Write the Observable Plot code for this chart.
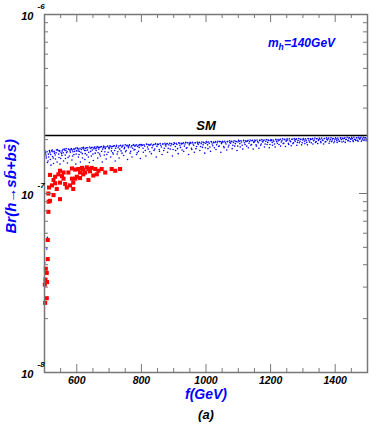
<!DOCTYPE html>
<html><head><meta charset="utf-8">
<script src="https://cdn.jsdelivr.net/npm/d3@7"></script>
<script src="https://cdn.jsdelivr.net/npm/@observablehq/plot@0.6"></script>
<style>body{margin:0;background:#fff}</style>
</head><body><div id="chart"></div>
<script>
// Branching ratio Br(h -> s bbar + b sbar) vs f (GeV), m_h = 140 GeV
const smValue = 2.11e-7;
// red scan points: [f (GeV), Br in units of 1e-7]
const redScan = [
 [517,1.27],[528,1.19],[533,1.24],[543,1.28],[554,1.25],[548,1.34],[559,1.31],[559,1.21],
 [548,1.15],[533,1.14],[523,1.11],[538,1.06],[564,1.13],[569,1.08],[579,1.11],[589,1.15],
 [595,1.21],[600,1.24],[610,1.22],[585,1.38],[595,1.36],[605,1.37],[616,1.39],[620,1.36],
 [631,1.40],[636,1.37],[641,1.33],[646,1.39],[657,1.37],[667,1.34],[677,1.37],[688,1.31],
 [708,1.37],[719,1.34],[734,1.37],[620,1.28],[636,1.19],[651,1.26],[662,1.28],[512,1.00],
 [517,0.91],[528,0.98],[548,0.93],[589,1.06],[585,1.21],[574,1.31],[610,1.31],[626,1.31],
 [513,0.90],[512,0.79],[514,1.08],[510,0.55],[510,0.43],[504,0.38],[507,0.36],[503,0.33],
 [508,0.32],[501,0.31],[507,0.26],[502,0.245]
];
// blue scan points: [f (GeV), Br in units of 1e-7]
const blueScan = [
 [503,1.70],[506,1.58],[509,1.49],[512,1.66],[515,1.74],[518,1.55],[520,1.44],[505,1.62],[511,1.52],[517,1.69],
 [522,1.73],[525,1.61],[528,1.47],[531,1.68],[534,1.56],[537,1.75],[539,1.50],[526,1.71],[533,1.64],
 [542,1.74],[545,1.59],[548,1.46],[551,1.70],[554,1.63],[557,1.76],[559,1.52],[546,1.72],[553,1.67],
 [562,1.75],[565,1.57],[568,1.69],[571,1.48],[574,1.77],[577,1.62],[579,1.73],[566,1.74],
 [582,1.76],[585,1.54],[588,1.71],[591,1.65],[594,1.77],[597,1.46],[599,1.73],[586,1.75],
 [602,1.78],[605,1.60],[608,1.72],[611,1.50],[614,1.76],[617,1.67],[619,1.79],[606,1.77],
 [622,1.77],[625,1.55],[628,1.74],[631,1.64],[634,1.80],[637,1.70],[639,1.49],[627,1.79],
 [642,1.79],[645,1.62],[648,1.75],[651,1.53],[654,1.81],[657,1.68],[659,1.78],[646,1.80],
 [662,1.80],[665,1.58],[668,1.77],[671,1.66],[674,1.82],[677,1.72],[679,1.50],[667,1.81],
 [682,1.81],[685,1.64],[688,1.78],[691,1.56],[694,1.83],[697,1.70],[699,1.80],[686,1.82],
 [702,1.82],[705,1.60],[708,1.79],[711,1.69],[714,1.84],[717,1.74],[719,1.52],[706,1.83],
 [722,1.83],[725,1.66],[728,1.80],[731,1.58],[734,1.85],[737,1.73],[739,1.82],
 [742,1.84],[745,1.63],[748,1.81],[751,1.71],[754,1.85],[757,1.55],[759,1.83],
 [762,1.85],[765,1.68],[768,1.82],[771,1.60],[774,1.86],[777,1.75],[779,1.84],
 [782,1.85],[785,1.65],[788,1.83],[791,1.72],[794,1.87],[797,1.57],[799,1.85],
 [803,1.86],[806,1.70],[810,1.84],[814,1.62],[817,1.88],[821,1.77],[824,1.86],
 [828,1.87],[831,1.67],[835,1.85],[839,1.74],[842,1.88],[846,1.60],[849,1.87],
 [853,1.88],[856,1.72],[860,1.86],[864,1.65],[867,1.89],[871,1.79],[874,1.87],
 [878,1.89],[881,1.70],[885,1.87],[889,1.77],[892,1.90],[896,1.62],[899,1.88],
 [903,1.90],[906,1.74],[910,1.88],[914,1.67],[917,1.91],[921,1.81],[924,1.89],
 [928,1.90],[931,1.72],[935,1.89],[939,1.79],[942,1.92],[946,1.65],[949,1.90],
 [953,1.91],[956,1.76],[960,1.89],[964,1.70],[967,1.92],[971,1.83],[974,1.91],
 [978,1.92],[981,1.74],[985,1.90],[989,1.81],[992,1.93],[996,1.68],[999,1.91],
 [1003,1.93],[1006,1.78],[1010,1.91],[1014,1.72],[1017,1.94],[1021,1.85],[1024,1.92],
 [1028,1.93],[1031,1.76],[1035,1.92],[1039,1.83],[1042,1.95],[1046,1.70],[1049,1.93],
 [1053,1.94],[1056,1.80],[1060,1.92],[1064,1.75],[1067,1.95],[1071,1.86],[1074,1.93],
 [1078,1.95],[1081,1.78],[1085,1.93],[1089,1.84],[1092,1.96],[1096,1.74],[1099,1.94],
 [1103,1.96],[1106,1.82],[1110,1.94],[1114,1.77],[1117,1.97],[1121,1.88],[1124,1.95],
 [1128,1.96],[1131,1.80],[1135,1.95],[1139,1.86],[1142,1.97],[1146,1.77],[1149,1.95],
 [1153,1.97],[1156,1.84],[1160,1.95],[1164,1.79],[1167,1.98],[1171,1.89],[1174,1.96],
 [1178,1.97],[1181,1.82],[1185,1.96],[1189,1.88],[1192,1.99],[1196,1.80],[1199,1.97],
 [1203,1.98],[1206,1.86],[1210,1.96],[1214,1.82],[1217,1.99],[1221,1.91],[1224,1.97],
 [1228,1.99],[1231,1.84],[1235,1.97],[1239,1.90],[1242,2.00],[1246,1.83],[1249,1.98],
 [1253,1.99],[1256,1.88],[1260,1.97],[1264,1.85],[1267,2.01],[1271,1.92],[1274,1.99],
 [1278,2.00],[1281,1.86],[1285,1.98],[1289,1.92],[1292,2.01],[1296,1.87],[1299,1.99],
 [1303,2.00],[1306,1.90],[1310,1.98],[1314,1.87],[1317,2.02],[1321,1.94],[1324,2.00],
 [1328,2.01],[1331,1.89],[1335,1.99],[1339,1.93],[1342,2.02],[1346,1.90],[1349,2.00],
 [1353,2.01],[1356,1.92],[1360,1.99],[1364,1.89],[1367,2.03],[1371,1.95],[1374,2.01],
 [1378,2.02],[1381,1.91],[1385,2.00],[1389,1.95],[1392,2.03],[1396,1.92],[1399,2.01],
 [1403,2.02],[1406,1.93],[1410,2.00],[1414,1.96],[1417,2.04],[1421,1.94],[1424,2.02],
 [1428,2.03],[1431,1.93],[1435,2.01],[1439,1.97],[1442,2.04],[1446,1.95],[1449,2.02],
 [1453,2.03],[1456,1.95],[1460,2.01],[1464,1.98],[1467,2.05],[1471,1.96],[1474,2.03],
 [1478,2.04],[1481,1.96],[1485,2.02],[1489,1.98],[1492,2.05],[1496,1.97],[1499,2.03],
 [511,0.89],[509,0.57],[507,0.49],[501,0.41],[500,0.34]
];
// second pass of blue scan points, denser near the upper ridge
const blueScanRidge = [
 [501,1.73],[504,1.66],[508,1.71],[513,1.60],[516,1.72],[519,1.65],[524,1.75],[527,1.58],[530,1.72],[536,1.69],
 [540,1.76],[544,1.66],[547,1.74],[550,1.57],[555,1.73],[558,1.69],[561,1.77],[564,1.64],[567,1.78],[570,1.71],
 [573,1.59],[576,1.76],[580,1.70],[583,1.78],[587,1.62],[590,1.77],[593,1.72],[596,1.79],[598,1.66],
 [601,1.80],[604,1.73],[607,1.65],[610,1.79],[613,1.70],[616,1.80],[618,1.58],[621,1.81],[624,1.74],[626,1.67],
 [630,1.80],[633,1.75],[636,1.60],[640,1.82],[643,1.72],[647,1.81],[650,1.66],[653,1.78],[656,1.82],[660,1.74],
 [663,1.83],[666,1.69],[670,1.81],[673,1.62],[676,1.83],[680,1.77],[683,1.84],[687,1.71],[690,1.82],[693,1.65],
 [696,1.84],[700,1.78],
 [703,1.85],[707,1.73],[710,1.83],[713,1.66],[716,1.85],[720,1.79],[723,1.86],[727,1.71],[730,1.84],[733,1.77],
 [736,1.86],[740,1.68],[743,1.86],[747,1.78],[750,1.87],[753,1.74],[756,1.86],[760,1.80],[763,1.87],[767,1.72],
 [770,1.85],[773,1.79],[776,1.88],[780,1.76],[784,1.87],[787,1.69],[790,1.86],[793,1.81],[796,1.88],
 [801,1.88],[805,1.79],[808,1.87],[812,1.74],[816,1.89],[819,1.82],[823,1.88],[826,1.71],[830,1.89],[833,1.80],
 [837,1.88],[841,1.77],[844,1.90],[848,1.83],[851,1.89],[855,1.76],[858,1.90],[862,1.82],[866,1.89],[869,1.74],
 [873,1.91],[876,1.84],[880,1.90],[883,1.79],[887,1.91],[891,1.85],[894,1.89],[898,1.76],
 [901,1.92],[905,1.83],[908,1.91],[912,1.78],[916,1.92],[919,1.86],[923,1.91],[926,1.75],[930,1.92],[933,1.84],
 [937,1.93],[941,1.80],[944,1.92],[948,1.87],[951,1.93],[955,1.79],[958,1.93],[962,1.86],[966,1.92],[969,1.78],
 [973,1.94],[976,1.88],[980,1.93],[983,1.83],[987,1.94],[991,1.87],[994,1.92],[998,1.80],
 [1001,1.95],[1005,1.87],[1008,1.94],[1012,1.82],[1016,1.95],[1019,1.89],[1023,1.94],[1026,1.80],[1030,1.95],[1033,1.87],
 [1037,1.96],[1041,1.84],[1044,1.95],[1048,1.90],[1051,1.96],[1055,1.83],[1058,1.96],[1062,1.89],[1066,1.95],[1069,1.82],
 [1073,1.97],[1076,1.91],[1080,1.96],[1083,1.86],[1087,1.97],[1091,1.90],[1094,1.95],[1098,1.84],
 [1101,1.98],[1105,1.90],[1108,1.97],[1112,1.86],[1116,1.98],[1119,1.92],[1123,1.97],[1126,1.84],[1130,1.98],[1133,1.91],
 [1137,1.99],[1141,1.88],[1144,1.98],[1148,1.93],[1151,1.99],[1155,1.87],[1158,1.99],[1162,1.92],[1166,1.98],[1169,1.86],
 [1173,2.00],[1176,1.94],[1180,1.99],[1183,1.89],[1187,2.00],[1191,1.93],[1194,1.98],[1198,1.88],
 [1201,2.00],[1205,1.93],[1208,1.99],[1212,1.89],[1216,2.01],[1219,1.95],[1223,2.00],[1226,1.88],[1230,2.01],[1233,1.94],
 [1237,2.02],[1241,1.91],[1244,2.01],[1248,1.96],[1251,2.02],[1255,1.91],[1258,2.02],[1262,1.95],[1266,2.01],[1269,1.90],
 [1273,2.03],[1276,1.96],[1280,2.02],[1283,1.93],[1287,2.03],[1291,1.96],[1294,2.01],[1298,1.92],
 [1301,2.03],[1305,1.96],[1308,2.02],[1312,1.93],[1316,2.03],[1319,1.97],[1323,2.02],[1326,1.92],[1330,2.03],[1333,1.97],
 [1337,2.04],[1341,1.95],[1344,2.03],[1348,1.98],[1351,2.04],[1355,1.95],[1358,2.04],[1362,1.98],[1366,2.03],[1369,1.94],
 [1373,2.05],[1376,1.99],[1380,2.04],[1383,1.96],[1387,2.05],[1391,1.99],[1394,2.03],[1398,1.96],
 [1401,2.05],[1405,1.98],[1408,2.04],[1412,1.96],[1416,2.05],[1419,2.00],[1423,2.04],[1426,1.96],[1430,2.05],[1433,2.00],
 [1437,2.06],[1441,1.98],[1444,2.05],[1448,2.01],[1451,2.06],[1455,1.98],[1458,2.06],[1462,2.00],[1466,2.05],[1469,1.98],
 [1473,2.06],[1476,2.01],[1480,2.06],[1483,1.99],[1487,2.06],[1491,2.01],[1494,2.05],[1498,2.00]
];
const xTickLabels = [600, 800, 1000, 1200, 1400];
const xMinorTicks = [550,650,700,750,850,900,950,1050,1100,1150,1250,1300,1350,1450];
const yDecades = [1e-8, 1e-7, 1e-6];
const yDecadeExp = ["-8", "-7", "-6"];
const yMinorTicks = [2e-8,3e-8,4e-8,5e-8,6e-8,7e-8,8e-8,9e-8,2e-7,3e-7,4e-7,5e-7,6e-7,7e-7,8e-7,9e-7];

const W = 382, H = 432, ML = 44, MR = 15, MT = 14, MB = 60;
const PW = W - ML - MR, PH = H - MT - MB;
const axisGray = "#777";
const red = redScan.map(d => ({f: d[0], br: d[1] * 1e-7}));
const blue = blueScan.concat(blueScanRidge).map(d => ({f: d[0], br: d[1] * 1e-7}));
const decades = yDecades.map((v, i) => ({v, e: yDecadeExp[i]}));

const chart = Plot.plot({
  width: W, height: H,
  marginLeft: ML, marginRight: MR, marginTop: MT, marginBottom: MB,
  x: {domain: [500, 1500], axis: null},
  y: {type: "log", domain: [1e-8, 1e-6], axis: null},
  style: {fontFamily: "'Liberation Sans', Arial, sans-serif", fontWeight: "bold", fontStyle: "italic", background: "#fff"},
  marks: [
    Plot.dot(blue, {x: "f", y: "br", r: 0.8, fill: "#0000ff", stroke: null}),
    Plot.dot(red, {x: "f", y: "br", r: 2.3, symbol: "square", fill: "#ff0000", stroke: null}),
    Plot.ruleY([smValue], {stroke: "#000", strokeWidth: 1.5}),
    Plot.text(["SM"], {x: 1000, y: smValue, text: d => d, dy: -10, fontSize: 13, fill: "#000"}),
    Plot.text(["m"], {x: 1192, y: 6.9e-7, text: d => d, textAnchor: "start", fontSize: 12, fill: "#0000ff"}),
    Plot.text(["h"], {x: 1192, y: 6.9e-7, text: d => d, textAnchor: "start", dx: 10.5, dy: 4, fontSize: 8.5, fill: "#0000ff"}),
    Plot.text(["=140GeV"], {x: 1192, y: 6.9e-7, text: d => d, textAnchor: "start", dx: 16, fontSize: 12, fill: "#0000ff"}),
    // ticks (inward, mirrored on all four sides)
    Plot.tickY(yMinorTicks, {y: d => d, insetRight: PW - 4, stroke: axisGray}),
    Plot.tickY(yMinorTicks, {y: d => d, insetLeft: PW - 4, stroke: axisGray}),
    Plot.tickY(yDecades, {y: d => d, insetRight: PW - 8, stroke: axisGray}),
    Plot.tickY(yDecades, {y: d => d, insetLeft: PW - 8, stroke: axisGray}),
    Plot.tickX(xMinorTicks, {x: d => d, insetTop: PH - 4, stroke: axisGray}),
    Plot.tickX(xMinorTicks, {x: d => d, insetBottom: PH - 4, stroke: axisGray}),
    Plot.tickX(xTickLabels, {x: d => d, insetTop: PH - 8, stroke: axisGray}),
    Plot.tickX(xTickLabels, {x: d => d, insetBottom: PH - 8, stroke: axisGray}),
    Plot.frame({stroke: axisGray, strokeWidth: 1.5}),
    Plot.axisX(xTickLabels, {tickSize: 0, tickPadding: 4, fontSize: 10.5, label: null, fill: "#000", tickFormat: d => String(d)}),
    Plot.text(decades, {y: "v", text: () => "10", frameAnchor: "left", textAnchor: "end", dx: -11, dy: 2, fontSize: 11, fill: "#000"}),
    Plot.text(decades, {y: "v", text: "e", frameAnchor: "left", textAnchor: "start", dx: -7, dy: -8, fontSize: 8, fill: "#000"}),
    Plot.text(["f(GeV)"], {text: d => d, frameAnchor: "bottom", dy: 26, fontSize: 14, fill: "#0000ff"}),
    Plot.text(["(a)"], {text: d => d, frameAnchor: "bottom", dy: 46, fontSize: 13, fill: "#000"}),
    Plot.text(["Br(h\u2192sb\u0304+bs\u0304)"], {text: d => d, frameAnchor: "left", rotate: -90, dx: -33, dy: 40, fontSize: 15, fill: "#0000ff"})
  ]
});
document.getElementById("chart").appendChild(chart);
</script>
</body></html>
